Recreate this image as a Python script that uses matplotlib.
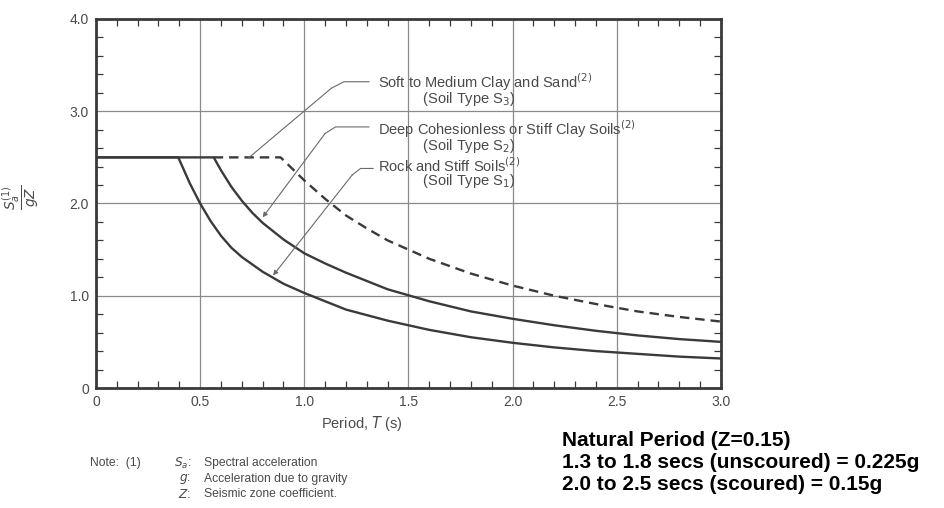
import numpy as np
import matplotlib
matplotlib.use("Agg")
import matplotlib.pyplot as plt
from matplotlib.ticker import MultipleLocator
from matplotlib.transforms import ScaledTranslation

plt.rcParams['font.family'] = ['Liberation Sans', 'DejaVu Sans']

# values
t_rock = [0, 0.395, 0.45, 0.5, 0.55, 0.6, 0.65, 0.7, 0.8, 0.9, 1.0, 1.2, 1.4,
          1.6, 1.8, 2.0, 2.2, 2.4, 2.6, 2.8, 3.0]
sa_rock = [2.5, 2.5, 2.22, 2.0, 1.81, 1.65, 1.52, 1.42, 1.26, 1.13, 1.03, 0.85, 0.73,
           0.63, 0.55, 0.49, 0.44, 0.40, 0.37, 0.34, 0.32]

t_deep = [0, 0.565, 0.6, 0.65, 0.7, 0.75, 0.8, 0.9, 1.0, 1.1, 1.2, 1.4, 1.6, 1.8, 2.0,
          2.2, 2.4, 2.6, 2.8, 3.0]
sa_deep = [2.5, 2.5, 2.36, 2.18, 2.03, 1.90, 1.79, 1.61, 1.46, 1.35, 1.25, 1.07, 0.94, 0.83, 0.75,
           0.68, 0.62, 0.57, 0.53, 0.50]

t_soft = [0.565, 0.886, 0.95, 1.0, 1.1, 1.2, 1.3, 1.4, 1.6, 1.8, 2.0, 2.2, 2.4, 2.6, 2.8, 3.0]
sa_soft = [2.5, 2.5, 2.36, 2.25, 2.05, 1.87, 1.73, 1.60, 1.40, 1.24, 1.11, 1.00, 0.91, 0.83, 0.77, 0.72]

x_ticks = [0, 0.5, 1.0, 1.5, 2.0, 2.5, 3.0]
x_labels = ["0", "0.5", "1.0", "1.5", "2.0", "2.5", "3.0"]
y_ticks = [0, 1.0, 2.0, 3.0, 4.0]
y_labels = ["0", "1.0", "2.0", "3.0", "4.0"]

soil_labels = ["Soft to Medium Clay and Sand$^{(2)}$",
               "Deep Cohesionless or Stiff Clay Soils$^{(2)}$",
               "Rock and Stiff Soils$^{(2)}$"]
soil_types = ["(Soil Type S$_3$)", "(Soil Type S$_2$)", "(Soil Type S$_1$)"]

note_lines = ["Natural Period (Z=0.15)",
              "1.3 to 1.8 secs (unscoured) = 0.225g",
              "2.0 to 2.5 secs (scoured) = 0.15g"]

W, H = 945, 508
fig = plt.figure(figsize=(W / 100, H / 100), dpi=100)
ax = fig.add_axes([96 / W, 1 - 388 / H, (721 - 96) / W, (388 - 19) / H])

ink = "#3a3a3a"
txt = "#4a4a4a"

ax.plot(t_rock, sa_rock, color=ink, lw=1.7)
ax.plot(t_deep, sa_deep, color=ink, lw=1.7)
ax.plot(t_soft, sa_soft, color=ink, lw=1.7, linestyle=(0, (4, 2.5)))

ax.set_xlim(0, 3.0)
ax.set_ylim(0, 4.0)
ax.set_xticks(x_ticks)
ax.set_xticklabels(x_labels)
ax.set_yticks(y_ticks)
ax.set_yticklabels(y_labels)
ax.xaxis.set_minor_locator(MultipleLocator(0.1))
ax.yaxis.set_minor_locator(MultipleLocator(0.2))
ax.tick_params(which="both", direction="in", top=True, right=True,
               color=ink, labelcolor=txt, labelsize=10)
ax.tick_params(which="major", length=0, pad=5)
ax.tick_params(which="minor", length=5, width=0.9)
ax.grid(True, which="major", color="#8a8a8a", lw=0.9)
for s in ax.spines.values():
    s.set_linewidth(2.0)
    s.set_color(ink)

ax.set_xlabel("Period, $T$ (s)", color=txt, fontsize=10.5)
ax.xaxis.set_label_coords(0.425, -0.07)
fig.text(21 / W, 1 - 197 / H, r"$\frac{S_a^{(1)}}{gZ}$", rotation=90,
         color=txt, fontsize=14, ha="center", va="center")

# leader lines to the curves
leaders = [
    ([1.31, 1.19, 1.13, 0.73], [3.32, 3.32, 3.25, 2.49], False),
    ([1.31, 1.15, 1.10, 0.80], [2.83, 2.83, 2.76, 1.85], True),
    ([1.33, 1.27, 1.23, 0.85], [2.38, 2.38, 2.31, 1.22], True),
]
for lx, ly, arrow in leaders:
    ax.plot(lx[:-1], ly[:-1], color="#6a6a6a", lw=0.8)
    ax.annotate("", xy=(lx[-1], ly[-1]), xytext=(lx[-2], ly[-2]),
                arrowprops=dict(arrowstyle="-|>" if arrow else "-", color="#6a6a6a",
                                lw=0.8, mutation_scale=7, shrinkA=0, shrinkB=0))

# label + soil type in one block, second line indented
lab_y = [3.315, 2.806, 2.394]
shift = ax.transData + ScaledTranslation(0, 11 / 100, fig.dpi_scale_trans)
for lab, typ, y1 in zip(soil_labels, soil_types, lab_y):
    ax.text(1.353, y1, lab + "\n" + " " * 11 + typ, color=txt, fontsize=10.5,
            va="top", ha="left", linespacing=0.8, transform=shift)

# notes under the chart
fs_note = 8.7
fig.text(90 / W, 1 - 463 / H, "Note:  (1)", color=txt, fontsize=fs_note, va="center")
fig.text(191 / W, 1 - 463 / H, "$S_a$:", color=txt, fontsize=fs_note, va="center", ha="right")
fig.text(191 / W, 1 - 479 / H, "$g$:", color=txt, fontsize=fs_note, va="center", ha="right")
fig.text(191 / W, 1 - 494 / H, "$Z$:", color=txt, fontsize=fs_note, va="center", ha="right")
fig.text(204 / W, 1 - 463 / H, "Spectral acceleration", color=txt, fontsize=fs_note, va="center")
fig.text(204 / W, 1 - 479 / H, "Acceleration due to gravity", color=txt, fontsize=fs_note, va="center")
fig.text(204 / W, 1 - 494 / H, "Seismic zone coefficient.", color=txt, fontsize=fs_note, va="center")

for i, line in enumerate(note_lines):
    fig.text(562 / W, 1 - (440 + 22 * i) / H, line, color="black",
             fontsize=15, fontweight="bold", va="center", ha="left")

fig.savefig("out.png", dpi=100, facecolor="white")
